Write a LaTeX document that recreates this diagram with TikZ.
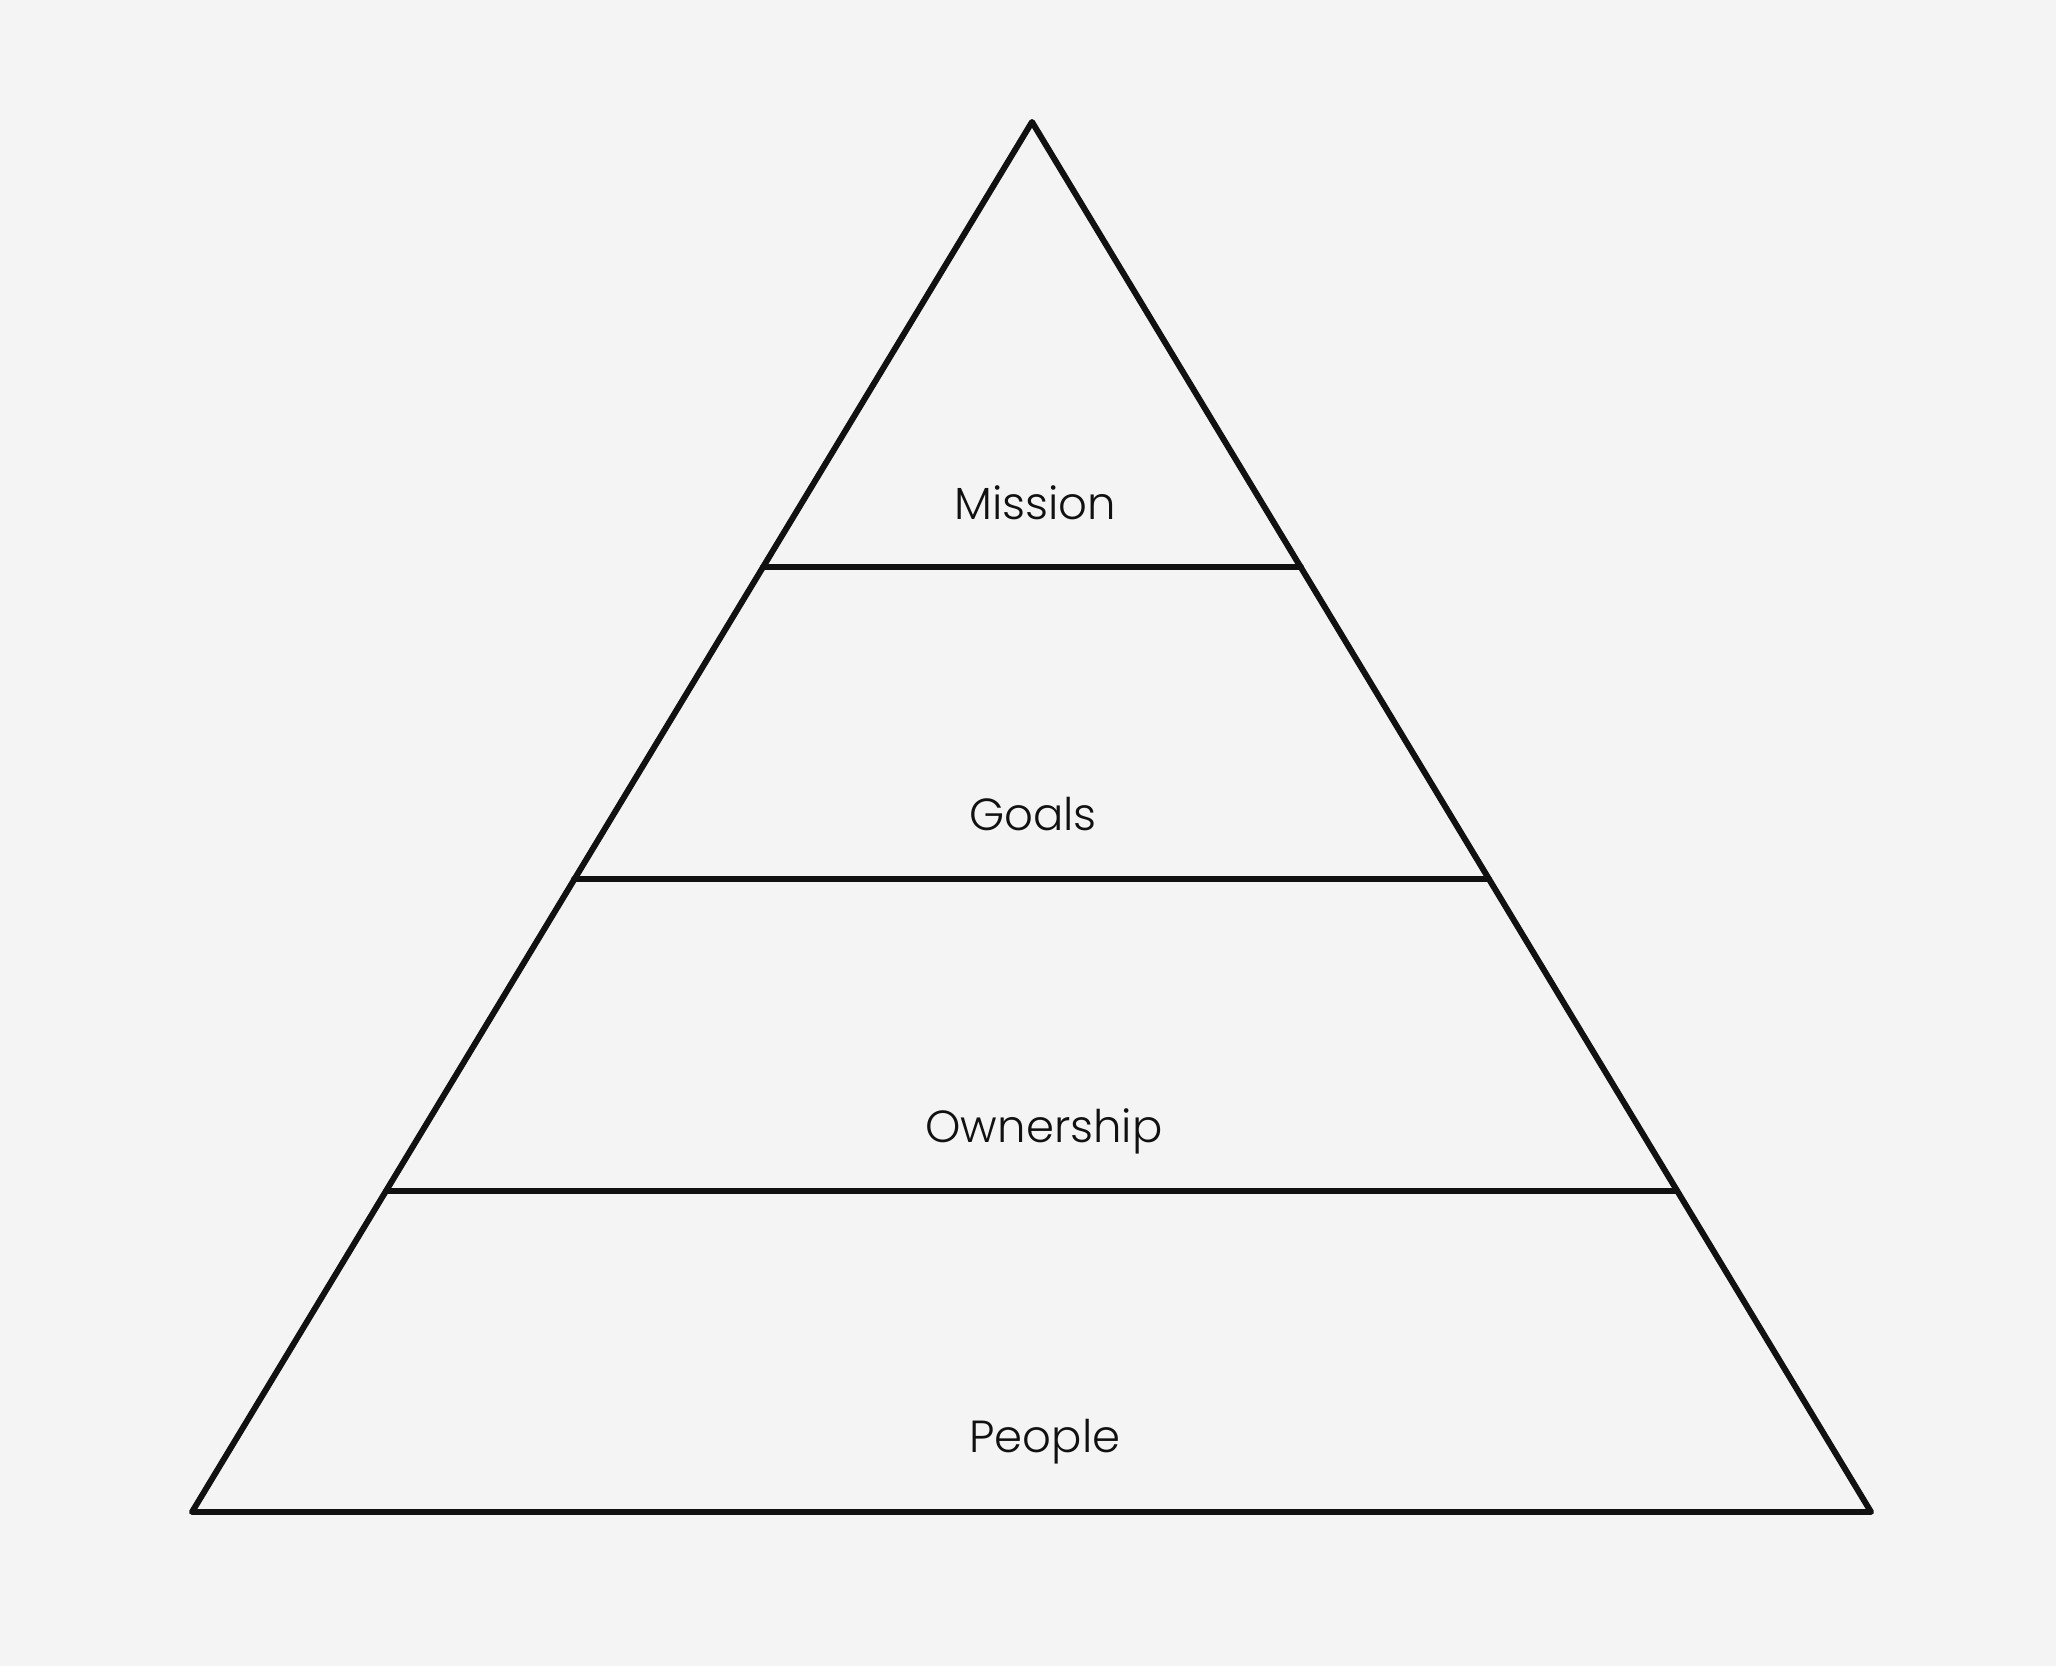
\documentclass[tikz,border=0pt]{standalone}
\usepackage{fontspec}
\setmainfont{Poppins}[UprightFont=* Light]
\definecolor{pagegray}{HTML}{F4F4F4}
\definecolor{inkblack}{HTML}{111111}

\begin{document}
\begin{tikzpicture}[
	tier/.style={draw=inkblack, line width=1.7pt, line cap=round},
	label/.style={anchor=base, inner sep=0pt, text=inkblack, font=\fontsize{12.8}{15}\selectfont}
]
	\fill[pagegray] (0.00, 0.00) rectangle (20.56, 16.66);
	\useasboundingbox (0.00, 0.00) rectangle (20.56, 16.66);

	\coordinate (apex) at (10.32, 15.44);
	\coordinate (baseL) at (1.92, 1.54);
	\coordinate (baseR) at (18.71, 1.54);
	\draw[tier, line join=round] (apex) -- (baseR) -- (baseL) -- cycle;

	\coordinate (missionL) at (7.63, 10.99);
	\coordinate (missionR) at (13.01, 10.99);
	\coordinate (goalsL) at (5.74, 7.87);
	\coordinate (goalsR) at (14.89, 7.87);
	\coordinate (ownL) at (3.86, 4.75);
	\coordinate (ownR) at (16.77, 4.75);
	\draw[tier] (missionL) -- (missionR);
	\draw[tier] (goalsL) -- (goalsR);
	\draw[tier] (ownL) -- (ownR);

	\node[label] (mission) at (10.35, 11.46) {Mission};
	\node[label] (goals) at (10.33, 8.35) {Goals};
	\node[label] (ownership) at (10.44, 5.23) {Ownership};
	\node[label] (people) at (10.45, 2.13) {People};
\end{tikzpicture}
\end{document}
